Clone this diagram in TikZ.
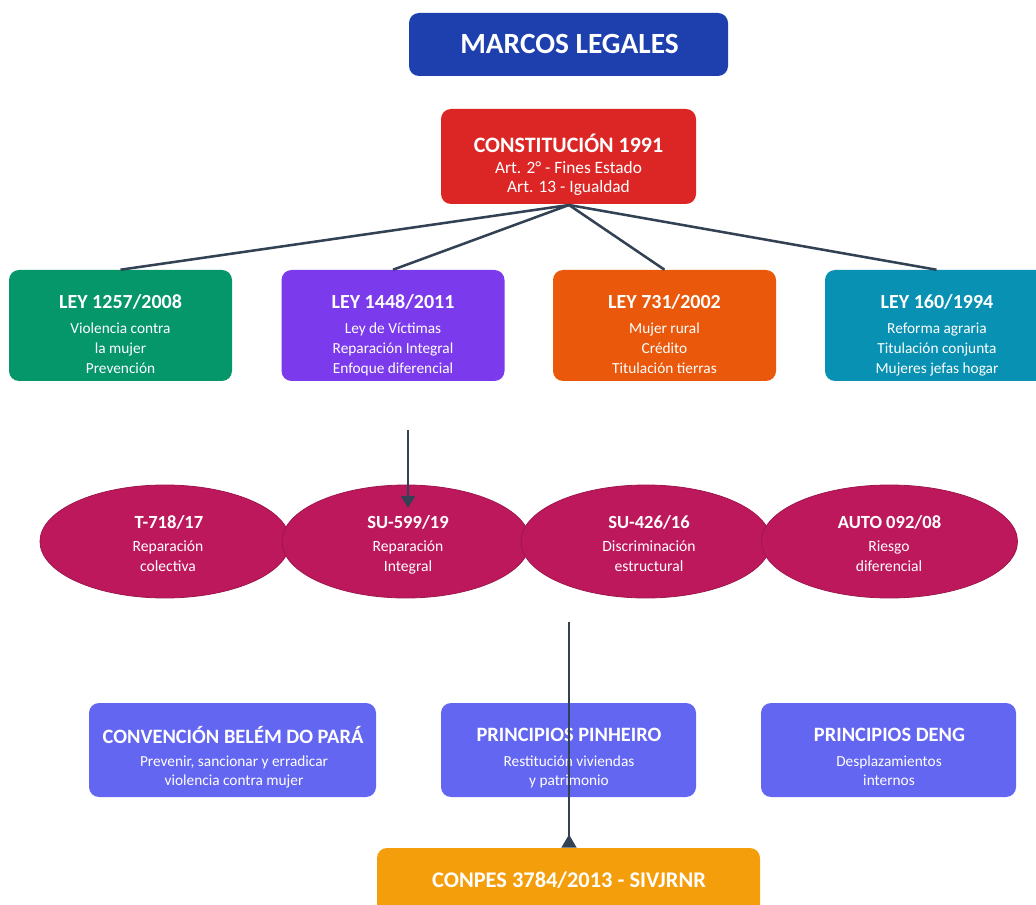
\documentclass[tikz,border=0pt]{standalone}
\usepackage{fontspec}
\setmainfont{Carlito}
\usetikzlibrary{shapes.geometric,arrows.meta}
\definecolor{cblue}{HTML}{1E40AF}
\definecolor{cred}{HTML}{DC2626}
\definecolor{cgreen}{HTML}{059669}
\definecolor{cpurple}{HTML}{7C3AED}
\definecolor{corange}{HTML}{EA580C}
\definecolor{cteal}{HTML}{0891B2}
\definecolor{cmag}{HTML}{BE185D}
\definecolor{cmagd}{HTML}{9D174D}
\definecolor{cindigo}{HTML}{6366F1}
\definecolor{camber}{HTML}{F59E0B}
\definecolor{cline}{HTML}{334155}
\tikzset{
  rbox/.style={draw=none,rounded corners=7.5pt,inner sep=0pt},
  lawbox/.style={rbox,minimum width=167.25pt,minimum height=83.25pt},
  botbox/.style={rbox,minimum height=70.5pt},
  oval/.style={ellipse,draw=cmagd,line width=0.6pt,fill=cmag,inner sep=0pt,minimum height=84.75pt},
  ttl/.style={text=white,font=\bfseries,inner sep=0pt,align=center},
  subt/.style={text=white,inner sep=0pt,align=center},
  conn/.style={draw=cline,line width=1.9pt},
  arr/.style={draw=cline,line width=2.2pt}
}
\begin{document}
\begin{tikzpicture}[x=0.75pt,y=-0.75pt]
\clip (0,0) rectangle (1036,905);
% title
\node[rbox,fill=cblue,minimum width=239.25pt,minimum height=47.25pt] (title) at (568.5,44.5) {};
\node[ttl,font=\fontsize{22}{24}\selectfont\bfseries] (titletxt) at (569.5,44) {MARCOS LEGALES};
% constitution
\node[rbox,fill=cred,minimum width=191.25pt,minimum height=71.25pt] (const) at (568.5,156.5) {};
\node[ttl,font=\fontsize{16.5}{18}\selectfont\bfseries] (constt) at (568.5,143) {CONSTITUCIÓN 1991};
\node[subt,font=\fontsize{13}{14.25}\selectfont] (consts) at (568.5,179.5) {\strut Art. 2° - Fines Estado\\Art. 13 - Igualdad\strut};
% laws
\node[lawbox,fill=cgreen] (l1) at (120.5,325.5) {};
\node[lawbox,fill=cpurple] (l2) at (393,325.5) {};
\node[lawbox,fill=corange] (l3) at (664.5,325.5) {};
\node[lawbox,fill=cteal] (l4) at (936.5,325.5) {};
\tikzset{lt/.style={ttl,font=\fontsize{15}{16}\selectfont\bfseries},
         ls/.style={subt,font=\fontsize{11.5}{15}\selectfont}}
\node[lt] (l1t) at (120.5,302) {LEY 1257/2008};
\node[ls] (l1s) at (120.5,350) {\strut Violencia contra\\la mujer\\Prevención\strut};
\node[lt] (l2t) at (393,302) {LEY 1448/2011};
\node[ls] (l2s) at (393,350) {\strut Ley de Víctimas\\Reparación Integral\\Enfoque diferencial\strut};
\node[lt] (l3t) at (664.5,302) {LEY 731/2002};
\node[ls] (l3s) at (664.5,350) {\strut Mujer rural\\Crédito\\Titulación tierras\strut};
\node[lt] (l4t) at (937,302) {LEY 160/1994};
\node[ls] (l4s) at (937,350) {\strut Reforma agraria\\Titulación conjunta\\Mujeres jefas hogar\strut};
% connectors const -> laws
\coordinate (cs) at (569,205);
\draw[conn] (cs) -- (l1.north);
\draw[conn] (cs) -- (l2.north);
\draw[conn] (cs) -- (l3.north);
\draw[conn] (cs) -- (l4.north);
% ellipses
\node[oval,minimum width=187.5pt] (e1) at (165,541.5) {};
\node[oval,minimum width=186pt] (e2) at (406,541.5) {};
\node[oval,minimum width=187.5pt] (e3) at (646,541.5) {};
\node[oval,minimum width=192pt] (e4) at (889.5,541.5) {};
\tikzset{et/.style={ttl,font=\fontsize{13.9}{15}\selectfont\bfseries},
         es/.style={subt,font=\fontsize{11.7}{15}\selectfont}}
\node[et] (e1t) at (169,522) {T-718/17};
\node[es] (e1s) at (168,557) {\strut Reparación\\colectiva\strut};
\node[et] (e2t) at (408,522) {SU-599/19};
\node[es] (e2s) at (408,557) {\strut Reparación\\Integral\strut};
\node[et] (e3t) at (649,522) {SU-426/16};
\node[es] (e3s) at (649,557) {\strut Discriminación\\estructural\strut};
\node[et] (e4t) at (889.5,522) {AUTO 092/08};
\node[es] (e4s) at (889,557) {\strut Riesgo\\diferencial\strut};
% arrow into SU-599
\coordinate (a1) at (408,430);
\coordinate (a2) at (408,508);
\draw[arr,-{Triangle[width=10pt,length=9pt]}] (a1) -- (a2);
% bottom boxes
\node[botbox,fill=cindigo,minimum width=215.25pt] (b1) at (232.5,750) {};
\node[botbox,fill=cindigo,minimum width=191.25pt] (b2) at (568.5,750) {};
\node[botbox,fill=cindigo,minimum width=191.25pt] (b3) at (888.5,750) {};
\tikzset{bt/.style={ttl,font=\fontsize{15.3}{16}\selectfont\bfseries},
         bs/.style={subt,font=\fontsize{11.5}{14.25}\selectfont}}
\node[bt] (b1t) at (233,735) {CONVENCIÓN BELÉM DO PARÁ};
\node[bs] (b1s) at (234,772) {\strut Prevenir, sancionar y erradicar\\violencia contra mujer\strut};
\node[bt] (b2t) at (569,735) {PRINCIPIOS PINHEIRO};
\node[bs] (b2s) at (569,772) {\strut Restitución viviendas\\y patrimonio\strut};
\node[bt] (b3t) at (889.5,735) {PRINCIPIOS DENG};
\node[bs] (b3s) at (889,772) {\strut Desplazamientos\\internos\strut};
% conpes
\node[rbox,fill=camber,minimum width=287.25pt,minimum height=60pt] (conpes) at (568.5,888) {};
\node[ttl,font=\fontsize{16.8}{18}\selectfont\bfseries] (conpest) at (569,880) {CONPES 3784/2013 - SIVJRNR};
% line down to conpes
\coordinate (d1) at (569,622);
\draw[arr,-{Triangle[reversed,width=11pt,length=10pt]}] (d1) -- (d1 |- conpes.north);
\end{tikzpicture}
\end{document}
